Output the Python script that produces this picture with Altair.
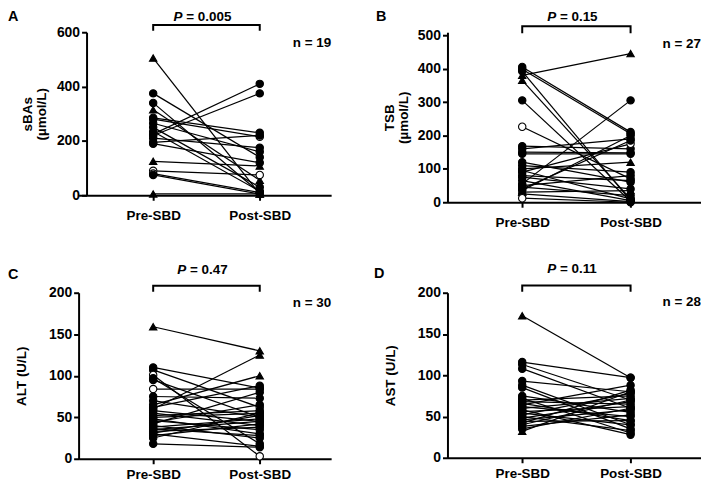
import altair as alt
import pandas as pd

FONT = "Liberation Sans, Arial, sans-serif"

# ---------------- Panel A : sBAs (n = 19) ----------------
a_pre = [505, 375, 340, 315, 285, 280, 265, 250, 235, 225, 220, 210, 195, 190, 125, 90, 80, 75, 5]
a_post = [5, 140, 10, 55, 230, 215, 160, 30, 15, 410, 375, 175, 220, 120, 108, 75, 10, 5, 5]
a_pre_m = ["t", "c", "c", "t", "c", "c", "c", "c", "c", "c", "c", "c", "c", "c", "t", "o", "o", "c", "t"]
a_post_m = ["t", "c", "c", "t", "c", "o", "c", "c", "c", "c", "c", "c", "c", "c", "t", "o", "c", "c", "t"]

# ---------------- Panel B : TSB (n = 27) ----------------
b_pre = [405, 398, 392, 380, 365, 305, 226, 168, 160, 150, 145, 120, 110, 100, 95, 90, 80, 75, 65, 55, 50, 45, 40, 35, 30, 25, 12]
b_post = [210, 205, 5, 445, 10, 3, 70, 160, 190, 148, 145, 60, 90, 120, 10, 175, 65, 40, 5, 305, 80, 20, 185, 200, 35, 2, 0]
b_pre_m = ["c", "c", "c", "t", "t", "c", "o", "c", "c", "c", "c", "c", "c", "c", "c", "c", "c", "c", "c", "c", "c", "c", "c", "c", "t", "c", "o"]
b_post_m = ["c", "c", "c", "t", "c", "c", "c", "c", "c", "c", "c", "c", "c", "t", "c", "o", "c", "c", "c", "c", "c", "c", "c", "c", "t", "c", "c"]

# ---------------- Panel C : ALT (n = 30) ----------------
c_pre = [159, 110, 107, 101, 97, 95, 84, 75, 70, 65, 62, 60, 58, 55, 52, 50, 48, 46, 44, 42, 40, 38, 36, 35, 33, 31, 30, 28, 25, 18]
c_post = [130, 85, 62, 3, 18, 50, 84, 73, 50, 100, 88, 125, 45, 40, 58, 55, 30, 35, 65, 80, 25, 48, 28, 45, 38, 52, 15, 42, 55, 14]
c_pre_m = ["t", "c", "c", "o", "c", "c", "o"] + ["c"] * 23
c_post_m = ["t", "c", "o", "o", "c", "c", "c", "c", "c", "t", "c", "t"] + ["c"] * 18

# ---------------- Panel D : AST (n = 28) ----------------
d_pre = [172, 116, 113, 108, 93, 88, 85, 75, 72, 70, 68, 66, 64, 62, 60, 58, 56, 54, 52, 50, 48, 46, 44, 42, 40, 38, 35, 32]
d_post = [97, 97, 70, 60, 80, 40, 35, 55, 30, 75, 65, 45, 88, 50, 72, 28, 62, 40, 78, 33, 68, 58, 45, 82, 70, 52, 60, 80]
d_pre_m = ["t"] + ["c"] * 26 + ["t"]
d_post_m = ["o"] + ["c"] * 27

CW = {"P": 0.667, " ": 0.278, "=": 0.584, ".": 0.278}
TFS = 13.5


def tw(s, fs=TFS):
    return sum(CW.get(ch, 0.556) for ch in s) * fs


def panel(pre, post, pre_m, post_m, ydom, yvals, ytitle, letter, pval, ntext,
          width, height, xdom, br_y, tick_y, p_y, n_y, letter_xy,
          y_offset=0, title_pad=8, x_lab_pad=8):
    rows = []
    for i, (a, b, ma, mb) in enumerate(zip(pre, post, pre_m, post_m)):
        rows.append({"id": i, "t": 0, "v": a, "m": ma})
        rows.append({"id": i, "t": 1, "v": b, "m": mb})
    df = pd.DataFrame(rows)

    X = alt.X("t:Q",
              scale=alt.Scale(domain=xdom, nice=False, zero=False),
              axis=alt.Axis(values=[0, 1], title=None,
                            labelExpr="datum.value == 0 ? 'Pre-SBD' : 'Post-SBD'",
                            labelPadding=x_lab_pad, labelFlush=False,
                            labelFontSize=13.5))
    Y = alt.Y("v:Q",
              scale=alt.Scale(domain=ydom, nice=False, zero=True),
              axis=alt.Axis(values=yvals, title=ytitle, titlePadding=title_pad,
                            labelPadding=2, offset=y_offset, labelFlush=False,
                            labelFontSize=14, titleLineHeight=14))

    lines = alt.Chart(df).mark_line(color="black", strokeWidth=1.25).encode(
        x=X, y=Y, detail="id:N")
    pts = alt.Chart(df).mark_point(filled=True, size=55, stroke="black",
                                   strokeWidth=1.1, opacity=1).encode(
        x=X, y=Y,
        shape=alt.Shape("m:N", scale=alt.Scale(domain=["c", "t", "o"],
                                               range=["circle", "triangle-up", "circle"]),
                        legend=None),
        fill=alt.Fill("m:N", scale=alt.Scale(domain=["c", "t", "o"],
                                             range=["black", "black", "white"]),
                      legend=None))

    bdf = pd.DataFrame({"t": [0, 0, 1, 1], "v": [tick_y, br_y, br_y, tick_y], "o": [0, 1, 2, 3]})
    bracket = alt.Chart(bdf).mark_line(color="black", strokeWidth=2).encode(
        x=X, y=Y, order="o:Q")

    full = "P = " + pval
    start = -tw(full) / 2 - 4
    pdf = pd.DataFrame({"t": [0.5], "v": [p_y]})
    ptxt = alt.Chart(pdf).mark_text(text="P", font=FONT, fontSize=TFS, fontWeight="bold",
                                    fontStyle="italic", align="left", baseline="alphabetic",
                                    dx=start, color="black").encode(x=X, y=Y)
    rtxt = alt.Chart(pdf).mark_text(text="= " + pval, font=FONT, fontSize=TFS, fontWeight="bold",
                                    align="left", baseline="alphabetic",
                                    dx=start + tw("P "), color="black").encode(x=X, y=Y)

    ndf = pd.DataFrame({"t": [xdom[1]], "v": [n_y]})
    ntxt = alt.Chart(ndf).mark_text(text=ntext, font=FONT, fontSize=TFS, fontWeight="bold",
                                    align="right", baseline="alphabetic",
                                    color="black").encode(x=X, y=Y)

    ldf = pd.DataFrame({"k": [0]})
    ltxt = alt.Chart(ldf).mark_text(text=letter, font=FONT, fontSize=14.5, fontWeight="bold",
                                    align="left", baseline="alphabetic",
                                    color="black").encode(x=alt.value(letter_xy[0]),
                                                          y=alt.value(letter_xy[1]))

    return alt.layer(lines, pts, bracket, ptxt, rtxt, ntxt, ltxt).properties(
        width=width, height=height)


XD1 = [-0.70, 1.67]
XD2 = [-0.69, 1.65]

pA = panel(a_pre, a_post, a_pre_m, a_post_m, [0, 600], [0, 200, 400, 600],
           ["sBAs", "(\u00b5mol/L)"], "A", "0.005", "n = 19",
           254, 164, XD1, 627, 605, 640, 545, (-71, -11),
           y_offset=-8, title_pad=8, x_lab_pad=8)
pB = panel(b_pre, b_post, b_pre_m, b_post_m, [0, 509], [0, 100, 200, 300, 400, 500],
           ["TSB", "(\u00b5mol/L)"], "B", "0.15", "n = 27",
           255, 171, XD2, 527, 506, 542, 461, (-72, -11),
           title_pad=7, x_lab_pad=8)
pC = panel(c_pre, c_post, c_pre_m, c_post_m, [0, 200], [0, 50, 100, 150, 200],
           "ALT (U/L)", "C", "0.47", "n = 30",
           254, 167, XD1, 208.4, 201.2, 222.8, 183.2, (-71, -14),
           title_pad=20, x_lab_pad=4)
pD = panel(d_pre, d_post, d_pre_m, d_post_m, [0, 200], [0, 50, 100, 150, 200],
           "AST (U/L)", "D", "0.11", "n = 28",
           255, 166, XD2, 208.8, 201.2, 224, 184.3, (-74, -15),
           title_pad=20, x_lab_pad=4)

chart = alt.concat(
    pA, pB, pC, pD, columns=2, bounds="flush",
    spacing=alt.RowColnumber(row=91, column=117), padding=0
).configure_view(
    stroke=None
).configure_axis(
    grid=False,
    domainColor="black", domainWidth=2,
    tickColor="black", tickWidth=2, tickSize=5,
    labelColor="black", labelFont=FONT, labelFontSize=13, labelFontWeight="bold",
    titleColor="black", titleFont=FONT, titleFontSize=13.5, titleFontWeight="bold",
)

chart.save("out.html", embed_options={"renderer": "svg", "actions": False})
